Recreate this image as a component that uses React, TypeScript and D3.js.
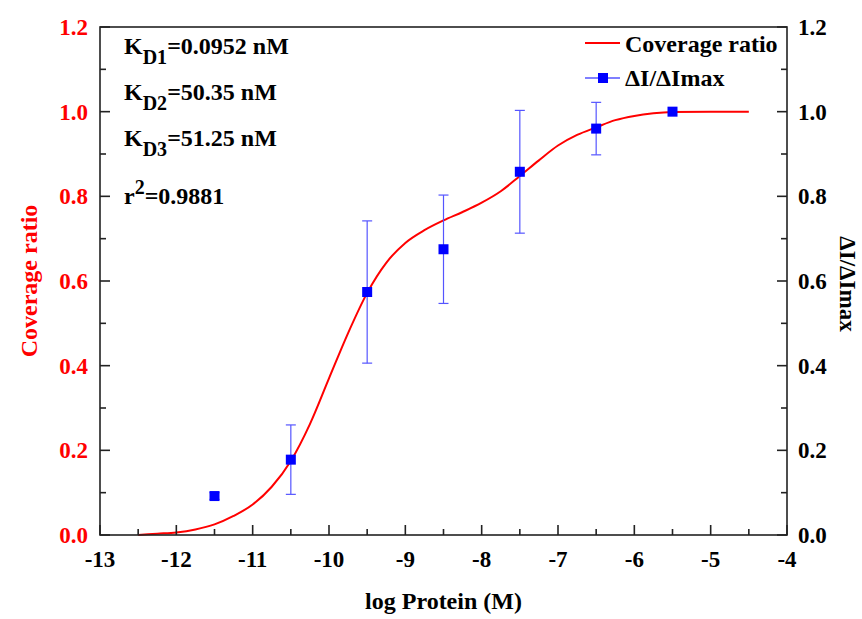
import React from 'react';
import * as d3 from 'd3';

const W = 862;
const H = 619;
const margin = { top: 27, right: 75, bottom: 84, left: 100 };

// fitted coverage curve (log concentration, ratio)
const curveX = [-12.5, -12.25, -12, -11.75, -11.5, -11.25, -11, -10.75, -10.5, -10.25, -10, -9.75, -9.5, -9.25, -9, -8.75, -8.5, -8.25, -8, -7.75, -7.5, -7.25, -7, -6.75, -6.5, -6.25, -6, -5.75, -5.5, -5, -4.5];
const curveY = [0.0, 0.003, 0.006, 0.013, 0.025, 0.045, 0.072, 0.114, 0.175, 0.262, 0.37, 0.477, 0.572, 0.643, 0.69, 0.72, 0.743, 0.763, 0.785, 0.812, 0.848, 0.885, 0.92, 0.945, 0.963, 0.98, 0.99, 0.996, 0.999, 1.0, 1.0];

// measured ΔI/ΔImax points with error bars
const pointX = [-11.5, -10.5, -9.5, -8.5, -7.5, -6.5, -5.5];
const pointY = [0.092, 0.178, 0.574, 0.675, 0.858, 0.96, 1.0];
const pointErr = [0.008, 0.082, 0.168, 0.128, 0.145, 0.062, 0];

const xMajor = [-13, -12, -11, -10, -9, -8, -7, -6, -5, -4];
const yMajor = [0, 0.2, 0.4, 0.6, 0.8, 1.0, 1.2];

const kdLabels = ['D1', 'D2', 'D3'];
const kdValues = ['0.0952 nM', '50.35 nM', '51.25 nM'];

const FONT = 'Liberation Serif';

export default function App() {
  const x = d3.scaleLinear().domain([-13, -4]).range([margin.left, W - margin.right]);
  const y = d3.scaleLinear().domain([0, 1.2]).range([H - margin.bottom, margin.top]);
  const x0 = x.range()[0], x1 = x.range()[1];
  const y0 = y.range()[0], y1 = y.range()[1];

  const xMinor = d3.range(-12.5, -4, 1);
  const yMinor = d3.range(0.1, 1.2, 0.2);

  const line = d3.line<number>()
    .x((_, i) => x(curveX[i]))
    .y((d) => y(d))
    .curve(d3.curveMonotoneX);

  const axisColor = '#222';
  const major = 10, minor = 6;
  const txt = { fontFamily: FONT, fontWeight: 'bold' };

  return (
    <svg width={W} height={H} style={{ display: 'block', position: 'absolute', left: 0, top: 0 }}>
      <rect width={W} height={H} fill="#fff" />

      {/* curve */}
      <path d={line(curveY) || ''} fill="none" stroke="#ff0000" strokeWidth={2} />

      {/* error bars */}
      <g stroke="#5555ff" strokeWidth={1.2}>
        {pointX.map((px, i) => pointErr[i] > 0 ? (
          <g key={i}>
            <line x1={x(px)} x2={x(px)} y1={y(pointY[i] - pointErr[i])} y2={y(pointY[i] + pointErr[i])} />
            <line x1={x(px) - 5} x2={x(px) + 5} y1={y(pointY[i] - pointErr[i])} y2={y(pointY[i] - pointErr[i])} />
            <line x1={x(px) - 5} x2={x(px) + 5} y1={y(pointY[i] + pointErr[i])} y2={y(pointY[i] + pointErr[i])} />
          </g>
        ) : null)}
      </g>
      {pointX.map((px, i) => (
        <rect key={i} x={x(px) - 5} y={y(pointY[i]) - 5} width={10} height={10} fill="#0000ff" />
      ))}

      {/* frame */}
      <rect x={x0} y={y1} width={x1 - x0} height={y0 - y1} fill="none" stroke={axisColor} strokeWidth={1.6} />

      {/* ticks */}
      <g stroke={axisColor} strokeWidth={1.6}>
        {xMajor.map((v) => <line key={v} x1={x(v)} x2={x(v)} y1={y0} y2={y0 - major} />)}
        {xMinor.map((v) => <line key={'m' + v} x1={x(v)} x2={x(v)} y1={y0} y2={y0 - minor} />)}
        {yMajor.map((v) => <line key={'l' + v} x1={x0} x2={x0 + major} y1={y(v)} y2={y(v)} />)}
        {yMinor.map((v) => <line key={'lm' + v} x1={x0} x2={x0 + minor} y1={y(v)} y2={y(v)} />)}
        {yMajor.map((v) => <line key={'r' + v} x1={x1} x2={x1 - major} y1={y(v)} y2={y(v)} />)}
        {yMinor.map((v) => <line key={'rm' + v} x1={x1} x2={x1 - minor} y1={y(v)} y2={y(v)} />)}
      </g>

      <g fontSize={23}>
        {xMajor.map((v) => (
          <text key={v} style={txt} x={x(v)} y={y0 + 32} textAnchor="middle" fill="#000">{v}</text>
        ))}
        {yMajor.map((v) => (
          <text key={'l' + v} style={txt} x={x0 - 12} y={y(v) + 8} textAnchor="end" fill="#ff0000">{v.toFixed(1)}</text>
        ))}
        {yMajor.map((v) => (
          <text key={'r' + v} style={txt} x={x1 + 11} y={y(v) + 8} textAnchor="start" fill="#000">{v.toFixed(1)}</text>
        ))}
      </g>

      {/* axis titles */}
      <text style={txt} x={(x0 + x1) / 2} y={609} textAnchor="middle" fontSize={24}>log Protein (M)</text>
      <text style={txt} transform={`translate(37,${(y0 + y1) / 2}) rotate(-90)`} textAnchor="middle" fontSize={24} fill="#ff0000">Coverage ratio</text>
      <text style={txt} transform={`translate(840,${(y0 + y1) / 2 + 3}) rotate(90)`} textAnchor="middle" fontSize={23}>ΔI/ΔImax</text>

      {/* annotations */}
      <g fontSize={24}>
        {kdLabels.map((s, i) => (
          <text key={s} style={txt} x={124} y={54 + i * 46}>
            K<tspan fontSize={20} dy={10}>{s}</tspan><tspan dy={-10}>={kdValues[i]}</tspan>
          </text>
        ))}
        <text style={txt} x={124} y={204}>
          r<tspan fontSize={20} dy={-10}>2</tspan><tspan dy={10}>=0.9881</tspan>
        </text>
      </g>

      {/* legend */}
      <g fontSize={24}>
        <line x1={585} x2={620} y1={43} y2={43} stroke="#ff0000" strokeWidth={2} />
        <text style={txt} x={625} y={52}>Coverage ratio</text>
        <line x1={585} x2={620} y1={78} y2={78} stroke="#0000ff" strokeWidth={1.2} />
        <rect x={598} y={73} width={10} height={10} fill="#0000ff" />
        <text style={txt} x={625} y={86}>ΔI/ΔImax</text>
      </g>
    </svg>
  );
}
